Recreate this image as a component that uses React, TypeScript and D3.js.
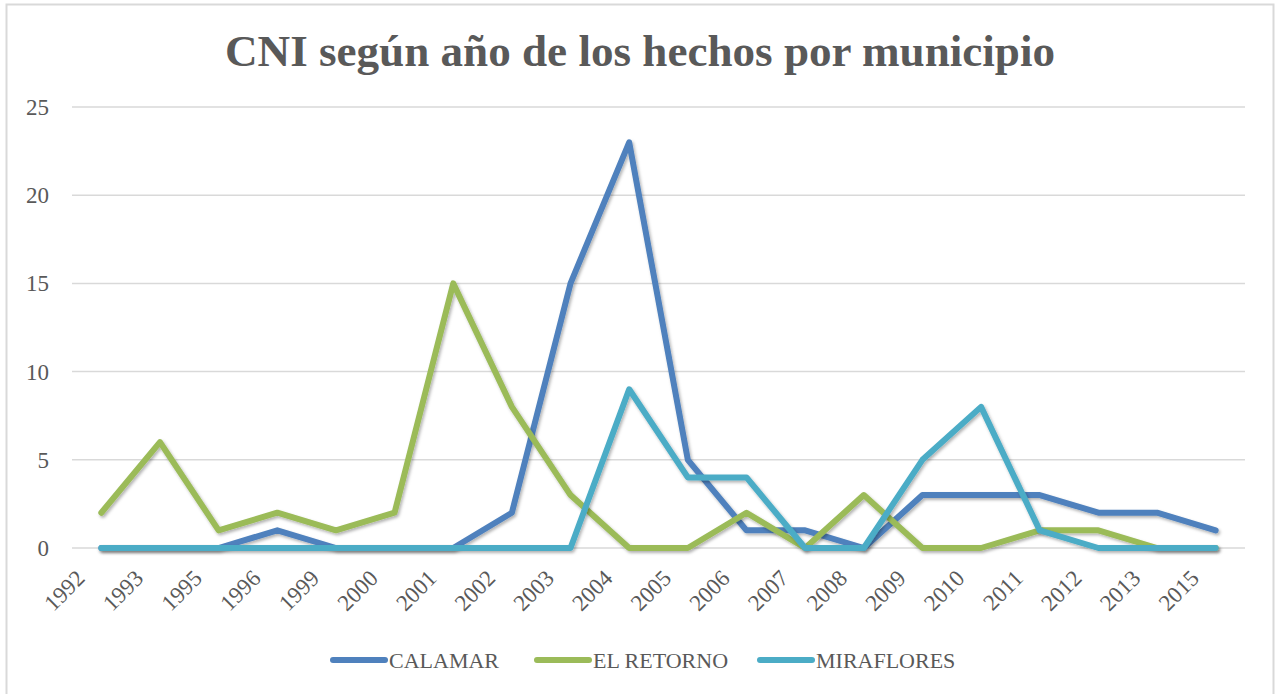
import React from "react";
import * as d3 from "d3";

const years = ["1992","1993","1995","1996","1999","2000","2001","2002","2003","2004","2005","2006","2007","2008","2009","2010","2011","2012","2013","2015"];
const calamar = [0,0,0,1,0,0,0,2,15,23,5,1,1,0,3,3,3,2,2,1];
const elRetorno = [2,6,1,2,1,2,15,8,3,0,0,2,0,3,0,0,1,1,0,0];
const miraflores = [0,0,0,0,0,0,0,0,0,9,4,4,0,0,5,8,1,0,0,0];
const yTicks = [0,5,10,15,20,25];
const seriesNames = ["CALAMAR","EL RETORNO","MIRAFLORES"];
const seriesColors = ["#4F81BD","#9BBB59","#4BACC6"];
const title = "CNI según año de los hechos por municipio";

export default function App() {
  const W = 1275, H = 694;
  const left = 72, right = 1245, top = 107, bottom = 548;
  const x = d3.scaleBand<string>().domain(years).range([left, right]);
  const y = d3.scaleLinear().domain([0, 25]).range([bottom, top]);
  const cx = (yr: string) => (x(yr) as number) + x.bandwidth() / 2;
  const line = d3.line<number>().x((_, i) => cx(years[i])).y(v => y(v));
  const data = [calamar, elRetorno, miraflores];
  const font = "'Liberation Serif', 'DejaVu Serif', serif";
  const textColor = "#595959";
  const legendX = [333, 537, 760];

  return (
    <svg width={W} height={H} style={{ position: "absolute", left: 0, top: 0, background: "#fff" }} fontFamily={font}>
      <defs>
        <filter id="sh" x="-5%" y="-5%" width="110%" height="120%">
          <feDropShadow dx="1.5" dy="2" stdDeviation="1.5" floodColor="#000" floodOpacity="0.3" />
        </filter>
      </defs>
      <rect x={0} y={0} width={W} height={H} fill="#fff" />
      <rect x={6.5} y={4.5} width={1267} height={720} fill="none" stroke="#d9d9d9" strokeWidth={2} />
      <text x={640} y={66} textAnchor="middle" fontWeight="bold" fontSize={44} fill={textColor} textLength={830} lengthAdjust="spacingAndGlyphs">{title}</text>
      {yTicks.map(t => (
        <g key={t}>
          <line x1={left} x2={right} y1={y(t)} y2={y(t)} stroke="#d9d9d9" strokeWidth={1.5} />
          <text x={49} y={y(t) + 8} textAnchor="end" fontSize={23} fill={textColor}>{t}</text>
        </g>
      ))}
      {years.map(yr => (
        <text key={yr} transform={`translate(${cx(yr) - 19},${bottom + 28}) rotate(-45)`} textAnchor="end" dominantBaseline="middle" fontSize={23} fill={textColor}>{yr}</text>
      ))}
      {data.map((d, i) => (
        <path key={i} d={line(d) || ""} fill="none" stroke={seriesColors[i]} strokeWidth={6} strokeLinejoin="round" strokeLinecap="round" filter="url(#sh)" />
      ))}
      {seriesNames.map((n, i) => (
        <g key={n}>
          <line x1={legendX[i]} x2={legendX[i] + 52} y1={660} y2={660} stroke={seriesColors[i]} strokeWidth={6} strokeLinecap="round" />
          <text x={legendX[i] + 56} y={668} fontSize={22} fill={textColor}>{n}</text>
        </g>
      ))}
    </svg>
  );
}
